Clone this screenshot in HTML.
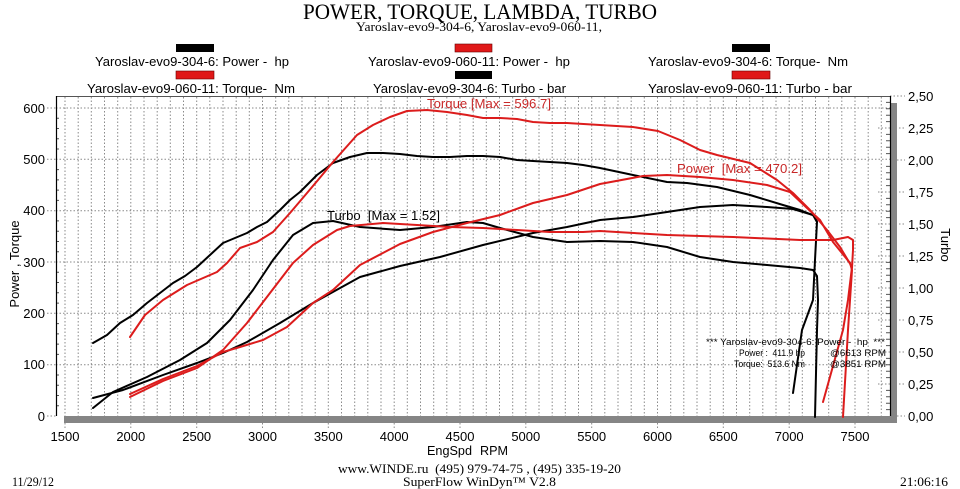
<!DOCTYPE html>
<html><head><meta charset="utf-8"><style>
html,body{margin:0;padding:0;background:#fff;}
svg{display:block;}
text{font-family:"Liberation Sans",Arial,sans-serif;white-space:pre;}
.serif{font-family:"Liberation Serif","Times New Roman",serif;}
</style></head><body>
<svg width="960" height="489" viewBox="0 0 960 489" xmlns="http://www.w3.org/2000/svg">
<rect width="960" height="489" fill="#fff"/>
<!-- Title -->
<text class="serif" x="303" y="19" font-size="22" textLength="354" lengthAdjust="spacingAndGlyphs" fill="#000">POWER, TORQUE, LAMBDA, TURBO</text>
<text class="serif" x="356" y="31" font-size="13" textLength="246" lengthAdjust="spacingAndGlyphs" fill="#000">Yaroslav-evo9-304-6, Yaroslav-evo9-060-11,</text>
<!-- Legend swatches -->
<rect x="176" y="44" width="38" height="8" fill="#000"/>
<rect x="455" y="44" width="37" height="8" fill="#e01818" stroke="#600" stroke-width="0.6"/>
<rect x="732" y="44" width="38" height="8" fill="#000"/>
<rect x="176" y="71" width="38" height="8" fill="#e01818" stroke="#600" stroke-width="0.6"/>
<rect x="455" y="71" width="37" height="8" fill="#000"/>
<rect x="732" y="71" width="38" height="8" fill="#e01818" stroke="#600" stroke-width="0.6"/>
<!-- Legend text -->
<g font-size="13" fill="#000">
<text x="95" y="66" textLength="194" lengthAdjust="spacingAndGlyphs">Yaroslav-evo9-304-6: Power -  hp</text>
<text x="368" y="66" textLength="202" lengthAdjust="spacingAndGlyphs">Yaroslav-evo9-060-11: Power -  hp</text>
<text x="648" y="66" textLength="200" lengthAdjust="spacingAndGlyphs">Yaroslav-evo9-304-6: Torque-  Nm</text>
<text x="87" y="93" textLength="208" lengthAdjust="spacingAndGlyphs">Yaroslav-evo9-060-11: Torque-  Nm</text>
<text x="373" y="93" textLength="193" lengthAdjust="spacingAndGlyphs">Yaroslav-evo9-304-6: Turbo - bar</text>
<text x="648" y="93" textLength="204" lengthAdjust="spacingAndGlyphs">Yaroslav-evo9-060-11: Turbo - bar</text>
</g>
<!-- Grid vertical -->
<g stroke="#8a8a8a" stroke-width="1" stroke-dasharray="1.5,2">
<path d="M65,97V416M78.2,97V416M91.3,97V416M104.5,97V416M117.7,97V416M130.8,97V416M144,97V416M157.2,97V416M170.3,97V416M183.5,97V416M196.7,97V416M209.8,97V416M223,97V416M236.2,97V416M249.3,97V416M262.5,97V416M275.7,97V416M288.8,97V416M302,97V416M315.2,97V416M328.3,97V416M341.5,97V416M354.7,97V416M367.8,97V416M381,97V416M394.2,97V416M407.3,97V416M420.5,97V416M433.7,97V416M446.8,97V416M460,97V416M473.2,97V416M486.3,97V416M499.5,97V416M512.7,97V416M525.8,97V416M539,97V416M552.2,97V416M565.3,97V416M578.5,97V416M591.7,97V416M604.8,97V416M618,97V416M631.2,97V416M644.3,97V416M657.5,97V416M670.7,97V416M683.8,97V416M697,97V416M710.2,97V416M723.3,97V416M736.5,97V416M749.7,97V416M762.8,97V416M776,97V416M789.2,97V416M802.3,97V416M815.5,97V416M828.7,97V416M841.8,97V416M855,97V416M868.2,97V416M881.3,97V416"/>
<path d="M56,108H890M56,159.3H890M56,210.7H890M56,262H890M56,313.3H890M56,364.7H890"/>
<path d="M47,108H56M47,159.3H56M47,210.7H56M47,262H56M47,313.3H56M47,364.7H56M47,416H56"/>
<path d="M890,96H905M878,128H905M890,160H905M878,192H905M878,224H905M878,256H905M878,288H905M878,320H905M878,352H905M878,384H905M890,416H905"/>
<path d="M65,423V429M130.8,423V429M196.7,423V429M262.5,423V429M328.3,423V429M394.2,423V429M460,423V429M525.8,423V429M591.7,423V429M657.5,423V429M723.3,423V429M789.2,423V429M855,423V429"/>
</g>
<!-- minor ticks -->
<g stroke="#555" stroke-width="1">
<path d="M56,118.3h3M56,128.5h3M56,138.8h3M56,149h3M56,169.6h3M56,179.9h3M56,190.1h3M56,200.4h3M56,220.9h3M56,231.2h3M56,241.5h3M56,251.7h3M56,272.3h3M56,282.5h3M56,292.8h3M56,303.1h3M56,323.6h3M56,333.9h3M56,344.1h3M56,354.4h3M56,375h3M56,385.2h3M56,395.5h3M56,405.7h3"/>
<path d="M886,102.4h4M886,108.8h4M886,115.2h4M886,121.6h4M886,134.4h4M886,140.8h4M886,147.2h4M886,153.6h4M886,166.4h4M886,172.8h4M886,179.2h4M886,185.6h4M886,198.4h4M886,204.8h4M886,211.2h4M886,217.6h4M886,230.4h4M886,236.8h4M886,243.2h4M886,249.6h4M886,262.4h4M886,268.8h4M886,275.2h4M886,281.6h4M886,294.4h4M886,300.8h4M886,307.2h4M886,313.6h4M886,326.4h4M886,332.8h4M886,339.2h4M886,345.6h4M886,358.4h4M886,364.8h4M886,371.2h4M886,377.6h4M886,390.4h4M886,396.8h4M886,403.2h4M886,409.6h4"/>
</g>
<!-- frame -->
<rect x="891" y="103" width="6" height="320" fill="#858585"/>
<rect x="64" y="416" width="833" height="7" fill="#858585"/>
<line x1="56" y1="96.5" x2="890" y2="96.5" stroke="#555" stroke-width="1"/>
<line x1="56.5" y1="96" x2="56.5" y2="416" stroke="#000" stroke-width="1.2"/>
<line x1="890.5" y1="96" x2="890.5" y2="416" stroke="#000" stroke-width="1.2"/>
<!-- curves -->
<g fill="none" stroke-width="2" stroke-linejoin="round" stroke-linecap="round">
<polyline stroke="#000" points="93,343 107,335 120,323 133,315 147,303 160,293 173,283 185,276 197,267 210,255 223,243 235,238 247,233 257,227 267,222 280,210 290,200 300,192 317,175 333,163 350,157 367,153 383,153 400,154 417,156 433,157 450,157 467,156 483,156 500,157 517,160 533,161 550,162 567,163 583,165 600,168 633,175 667,182 687,183 717,187 750,195 783,205 800,210 815,216 817,222 815,260 813,300 802,330 793,393"/>
<polyline stroke="#000" points="93,398 123,390 163,375 197,363 223,353 247,342 280,323 313,303 360,277 400,266 440,257 483,245 533,233 567,227 600,220 633,217 667,212 700,207 733,205 767,207 793,209 813,215 817,222"/>
<polyline stroke="#000" points="93,408 113,392 147,377 180,360 207,343 230,320 253,290 273,260 293,235 313,223 333,221 360,227 400,230 433,227 467,222 483,223 500,228 533,237 567,242 600,241 633,242 667,247 700,257 733,262 767,265 800,268 813,270 817,276 818,300 817,330 815,417"/>
<polyline stroke="#dc1c1c" points="130,337 145,315 163,300 187,285 217,272 227,263 240,248 257,242 273,232 290,213 307,193 318,180 333,162 357,135 373,125 390,117 407,111 427,110 447,112 467,115 483,118 500,118 517,119 533,122 550,123 567,123 600,125 633,127 658,131 680,140 700,150 717,155 750,163 777,180 793,193 810,210 827,230 840,247 852,267 848,300 843,330 823,402"/>
<polyline stroke="#dc1c1c" points="130,394 163,379 197,366 223,352 240,347 263,340 287,327 313,303 333,290 360,265 400,244 433,232 467,223 500,215 533,203 567,195 600,184 643,176 667,175 700,177 733,180 767,185 790,192 807,208 820,220 833,242 850,263 852,270 848,330 843,417"/>
<polyline stroke="#dc1c1c" points="130,397 163,381 197,368 223,350 247,323 270,293 293,263 313,245 337,230 350,226 383,223 417,225 450,227 483,228 517,230 550,232 583,232 600,231 667,235 733,237 800,240 833,240 848,237 853,240 853,250 852,268"/>
</g>
<!-- in-plot labels -->
<text x="427" y="108" font-size="12.5" fill="#c82828" textLength="124" lengthAdjust="spacingAndGlyphs">Torque [Max = 596.7]</text>
<text x="677" y="173" font-size="12.5" fill="#c82828" textLength="125" lengthAdjust="spacingAndGlyphs">Power  [Max = 470.2]</text>
<text x="327" y="220" font-size="12.5" fill="#000" textLength="113" lengthAdjust="spacingAndGlyphs">Turbo  [Max = 1.52]</text>
<g font-size="9.5" fill="#000">
<text x="706" y="345" textLength="179" lengthAdjust="spacingAndGlyphs">*** Yaroslav-evo9-304-6: Power -  hp  ***</text>
<text x="739" y="356" textLength="66" lengthAdjust="spacingAndGlyphs">Power :  411.9 hp</text>
<text x="830" y="356" textLength="56" lengthAdjust="spacingAndGlyphs">@6613 RPM</text>
<text x="734" y="367" textLength="71" lengthAdjust="spacingAndGlyphs">Torque:  513.6 Nm</text>
<text x="830" y="367" textLength="56" lengthAdjust="spacingAndGlyphs">@3851 RPM</text>
</g>
<!-- y left labels -->
<g font-size="13" fill="#000" text-anchor="end">
<text x="45" y="113">600</text>
<text x="45" y="164">500</text>
<text x="45" y="215">400</text>
<text x="45" y="267">300</text>
<text x="45" y="318">200</text>
<text x="45" y="369">100</text>
<text x="45" y="421">0</text>
</g>
<!-- y right labels -->
<g font-size="13" fill="#000">
<text x="908" y="101">2,50</text>
<text x="908" y="133">2,25</text>
<text x="908" y="165">2,00</text>
<text x="908" y="197">1,75</text>
<text x="908" y="229">1,50</text>
<text x="908" y="261">1,25</text>
<text x="908" y="293">1,00</text>
<text x="908" y="325">0,75</text>
<text x="908" y="357">0,50</text>
<text x="908" y="389">0,25</text>
<text x="908" y="421">0,00</text>
</g>
<!-- x labels -->
<g font-size="13" fill="#000" text-anchor="middle">
<text x="65" y="441">1500</text>
<text x="130.8" y="441">2000</text>
<text x="196.7" y="441">2500</text>
<text x="262.5" y="441">3000</text>
<text x="328.3" y="441">3500</text>
<text x="394.2" y="441">4000</text>
<text x="460" y="441">4500</text>
<text x="525.8" y="441">5000</text>
<text x="591.7" y="441">5500</text>
<text x="657.5" y="441">6000</text>
<text x="723.3" y="441">6500</text>
<text x="789.2" y="441">7000</text>
<text x="855" y="441">7500</text>
</g>
<text x="427" y="455" font-size="13" fill="#000" textLength="45" lengthAdjust="spacingAndGlyphs">EngSpd</text>
<text x="480" y="455" font-size="13" fill="#000" textLength="28" lengthAdjust="spacingAndGlyphs">RPM</text>
<!-- axis titles -->
<text transform="translate(19,264) rotate(-90)" font-size="13" fill="#000" text-anchor="middle">Power , Torque</text>
<text transform="translate(941,245) rotate(90)" font-size="13" fill="#000" text-anchor="middle">Turbo</text>
<!-- footer -->
<text class="serif" x="338" y="473" font-size="13" fill="#000" textLength="283" lengthAdjust="spacingAndGlyphs">www.WINDE.ru  (495) 979-74-75 , (495) 335-19-20</text>
<text class="serif" x="403" y="486" font-size="13" fill="#000" textLength="153" lengthAdjust="spacingAndGlyphs">SuperFlow WinDyn™ V2.8</text>
<text class="serif" x="12" y="486" font-size="13" fill="#000" textLength="42" lengthAdjust="spacingAndGlyphs">11/29/12</text>
<text class="serif" x="900" y="486" font-size="13" fill="#000" textLength="48" lengthAdjust="spacingAndGlyphs">21:06:16</text>
</svg>
</body></html>
